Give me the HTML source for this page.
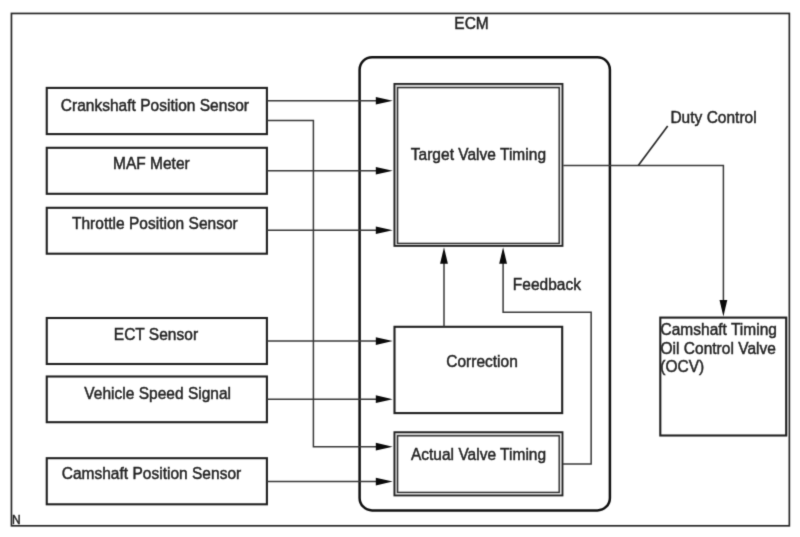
<!DOCTYPE html>
<html><head><meta charset="utf-8">
<style>
html,body{margin:0;padding:0;background:#fff;}
svg{display:block;}
text{font-family:"Liberation Sans",Arial,sans-serif;font-size:15.5px;fill:#242424;stroke:#242424;stroke-width:0.45px;letter-spacing:0.02px;}
.b{fill:none;stroke:#202020;stroke-width:2.1;}
.l{fill:none;stroke:#383838;stroke-width:1.5;}
.f{fill:none;stroke:#282828;stroke-width:1.7;}
.o{fill:none;stroke:#222;stroke-width:1.85;}
.g{fill:none;stroke:#b8b8b8;stroke-width:2;}
.i{fill:none;stroke:#303030;stroke-width:1.45;}
.a{fill:#0a0a0a;stroke:none;}
</style></head><body>
<svg width="800" height="537" viewBox="0 0 800 537">
<defs><filter id="sf" x="0" y="0" width="800" height="537" filterUnits="userSpaceOnUse" color-interpolation-filters="sRGB"><feConvolveMatrix order="3" kernelMatrix="0.0169 0.0962 0.0169 0.0962 0.5476 0.0962 0.0169 0.0962 0.0169" divisor="1" edgeMode="duplicate" preserveAlpha="true"/></filter></defs>
<g filter="url(#sf)">
<rect x="0" y="0" width="800" height="537" fill="#fff"/>
<!-- outer frame -->
<rect class="f" x="11.45" y="13.45" width="777.9" height="512.35"/>
<!-- ECM -->
<rect x="359.6" y="57.2" width="250.3" height="453.2" rx="12.5" ry="12.5" fill="none" stroke="#111" stroke-width="2.5"/>
<text transform="translate(454.3 29.4) scale(1 1.01)">ECM</text>
<!-- sensor boxes -->
<rect class="b" x="46.75" y="87.9" width="220.15" height="46.20"/>
<rect class="b" x="46.75" y="147.8" width="220.15" height="46.00"/>
<rect class="b" x="46.75" y="207.8" width="220.15" height="45.90"/>
<rect class="b" x="46.75" y="318" width="220.15" height="46.00"/>
<rect class="b" x="46.75" y="376.5" width="220.15" height="45.70"/>
<rect class="b" x="46.75" y="458.2" width="220.15" height="46.10"/>
<text transform="translate(60.8 111.1) scale(1 1.01)">Crankshaft Position Sensor</text>
<text transform="translate(113 169.4) scale(1 1.01)">MAF Meter</text>
<text transform="translate(72 228.9) scale(1 1.01)">Throttle Position Sensor</text>
<text transform="translate(113.8 340.4) scale(1 1.01)">ECT Sensor</text>
<text transform="translate(84.3 398.9) scale(1 1.01)">Vehicle Speed Signal</text>
<text transform="translate(61.7 479) scale(1 1.01)">Camshaft Position Sensor</text>
<!-- target valve timing (double) -->
<path d="M396 245V85.8H561.6" fill="none" stroke="#d0d0d0" stroke-width="2"/><path d="M560.8 85.8V244.5H396.2" fill="none" stroke="#e8e8e8" stroke-width="1.5"/>
<rect class="o" x="394.4" y="83.9" width="168.1" height="162"/>
<rect class="i" x="397.6" y="87.6" width="161.6" height="155.8"/>
<text transform="translate(410.8 159.7) scale(1 1.01)">Target Valve Timing</text>
<!-- correction -->
<rect class="b" x="394.5" y="326.8" width="167.7" height="86.3"/>
<text transform="translate(446.2 367.4) scale(1 1.01)">Correction</text>
<!-- actual valve timing (double) -->
<path d="M396 494.5V434.1H561.6" fill="none" stroke="#d0d0d0" stroke-width="2"/><path d="M560.8 434.1V493.9H396.2" fill="none" stroke="#e8e8e8" stroke-width="1.5"/>
<rect class="o" x="394.4" y="432.2" width="168.1" height="63.25"/>
<rect class="i" x="397.6" y="435.8" width="161.6" height="56.6"/>
<text transform="translate(410.9 459.7) scale(1 1.01)">Actual Valve Timing</text>
<!-- OCV -->
<rect class="b" x="660.3" y="317.6" width="125.9" height="117.9"/>
<path d="M787.9 317V436" stroke="#b4b4b4" stroke-width="1.1" fill="none"/>
<text transform="translate(660.5 335.4) scale(1 1.01)">Camshaft Timing</text>
<text transform="translate(660.5 353.7) scale(1 1.01)">Oil Control Valve</text>
<text transform="translate(660.3 372) scale(1 1.01)">(OCV)</text>
<!-- lines -->
<path class="l" d="M266.9 100.8H378"/>
<path class="l" d="M266.9 170.7H378"/>
<path class="l" d="M266.9 230.3H378"/>
<path class="l" d="M266.9 341.1H378"/>
<path class="l" d="M266.9 399.15H378"/>
<path class="l" d="M266.9 481.6H378"/>
<path class="l" d="M266.9 120.6H313.4V446.65H378"/>
<path class="a" d="M392.7 100.8L375.8 97V104.6Z"/>
<path class="a" d="M392.7 170.7L375.8 166.9V174.5Z"/>
<path class="a" d="M392.7 230.3L375.8 226.5V234.1Z"/>
<path class="a" d="M392.7 341.1L375.8 337.3V344.9Z"/>
<path class="a" d="M392.7 399.15L375.8 395.35V402.95Z"/>
<path class="a" d="M392.7 446.65L375.8 442.85V450.45Z"/>
<path class="a" d="M392.7 481.6L375.8 477.8V485.4Z"/>
<!-- correction up -->
<path class="l" d="M444 326.8V262"/>
<path class="a" d="M444 247.2L440.1 263.8H447.9Z"/>
<!-- feedback -->
<path class="l" d="M563 463.9H591.15V312.3H503.1V262"/>
<path class="a" d="M503.1 247.2L499.2 263.8H507Z"/>
<text transform="translate(512.8 289.9) scale(1 1.01)">Feedback</text>
<!-- output -->
<path class="l" d="M563.3 165.5H723.4V301"/>
<path class="a" d="M723.4 316.4L719.5 300H727.3Z"/>
<path d="M638.3 165.5L667.7 125.9" stroke="#2a2a2a" stroke-width="1.7" fill="none"/>
<text transform="translate(670.4 122.9) scale(1 1.01)">Duty Control</text>
<text transform="translate(11.9 524) scale(1 1.01)" style="font-size:12px">N</text>
</g>
</svg>
</body></html>
